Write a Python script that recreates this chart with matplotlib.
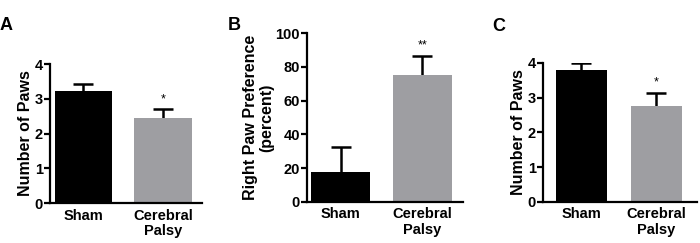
import matplotlib
matplotlib.use("Agg")
import matplotlib.pyplot as plt

groups = ["Sham", "Cerebral\nPalsy"]
colors = ["#000000", "#9e9ea2"]

a_vals = [3.22, 2.45]
a_err = [0.20, 0.25]
b_vals = [17.7, 75.0]
b_err = [14.8, 11.4]
c_vals = [3.80, 2.76]
c_err = [0.20, 0.38]

plt.rcParams['font.family'] = ['Liberation Sans', 'DejaVu Sans']
plt.rcParams['font.weight'] = 'bold'

fig = plt.figure(figsize=(7, 2.43), dpi=100)

panels = [
    dict(rect=[0.0714, 0.1646, 0.217, 0.572], vals=a_vals, err=a_err, ylim=(0, 4), ticks=[0, 1, 2, 3, 4],
         ylabel="Number of Paws", xlim=(-0.42, 1.49), stars=["", "*"], letter="A", lpos=(-0.001, 0.86), w=0.72),
    dict(rect=[0.4386, 0.169, 0.223, 0.695], vals=b_vals, err=b_err, ylim=(0, 100), ticks=[0, 20, 40, 60, 80, 100],
         ylabel="Right Paw Preference\n(percent)", xlim=(-0.41, 1.50), stars=["", "**"], letter="B", lpos=(0.325, 0.86), w=0.72),
    dict(rect=[0.7757, 0.169, 0.22, 0.572], vals=c_vals, err=c_err, ylim=(0, 4), ticks=[0, 1, 2, 3, 4],
         ylabel="Number of Paws", xlim=(-0.51, 1.54), stars=["", "*"], letter="C", lpos=(0.703, 0.855), w=0.68),
]

for p in panels:
    ax = fig.add_axes(p["rect"])
    x = [0, 1]
    tops = [v + e for v, e in zip(p["vals"], p["err"])]
    ax.bar(x, p["vals"], width=p["w"], color=colors, zorder=2)
    ax.errorbar(x, tops, yerr=[p["err"], [0, 0]], fmt="none",
                ecolor="black", elinewidth=1.8, capsize=0, zorder=1)
    ax.plot(x, tops, linestyle="none", marker="_", markersize=15, markeredgewidth=1.8,
            color="black", zorder=1)
    ymax = p["ylim"][1]
    for xi, t, s in zip(x, tops, p["stars"]):
        if s:
            ax.text(xi, t + ymax * 0.03, s, ha="center", va="bottom", fontsize=9, fontweight="normal")
    ax.set_ylim(*p["ylim"])
    ax.set_xlim(*p["xlim"])
    ax.set_yticks(p["ticks"])
    ax.set_xticks(x)
    ax.set_xticklabels(groups, fontsize=10.5, fontweight="bold", linespacing=1.1)
    for lab in ax.get_yticklabels():
        lab.set_fontsize(10.5)
        lab.set_fontweight("bold")
    ax.set_ylabel(p["ylabel"], fontsize=11.5, fontweight="bold", linespacing=1.1, labelpad=1)
    ax.spines["top"].set_visible(False)
    ax.spines["right"].set_visible(False)
    ax.spines["left"].set_linewidth(1.6)
    ax.spines["bottom"].set_linewidth(1.6)
    ax.tick_params(axis="y", length=4, width=1.6, pad=1)
    ax.tick_params(axis="x", length=0, pad=4)
    fig.text(p["lpos"][0], p["lpos"][1], p["letter"], fontsize=13, fontweight="bold", va="bottom")

fig.savefig("out.png", dpi=100)
